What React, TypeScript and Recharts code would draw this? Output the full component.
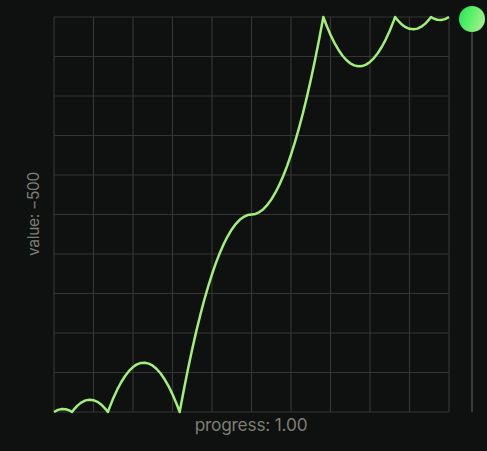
import React from "react";
import { LineChart, Line, XAxis, YAxis, CartesianGrid } from "recharts";

const progress = [
  0, 0.01, 0.02, 0.03, 0.04, 0.0455, 0.05, 0.06, 0.07, 0.08, 0.09, 0.1, 0.11, 0.12, 0.13, 0.1364,
  0.14, 0.15, 0.16, 0.17, 0.18, 0.19, 0.2, 0.21, 0.22, 0.23, 0.24, 0.25, 0.26, 0.27, 0.28, 0.29,
  0.3, 0.31, 0.3182, 0.32, 0.33, 0.34, 0.35, 0.36, 0.37, 0.38, 0.39, 0.4, 0.41, 0.42, 0.43, 0.44,
  0.45, 0.46, 0.47, 0.48, 0.49, 0.5, 0.51, 0.52, 0.53, 0.54, 0.55, 0.56, 0.57, 0.58, 0.59, 0.6,
  0.61, 0.62, 0.63, 0.64, 0.65, 0.66, 0.67, 0.68, 0.6818, 0.69, 0.7, 0.71, 0.72, 0.73, 0.74, 0.75,
  0.76, 0.77, 0.78, 0.79, 0.8, 0.81, 0.82, 0.83, 0.84, 0.85, 0.86, 0.8636, 0.87, 0.88, 0.89, 0.9,
  0.91, 0.92, 0.93, 0.94, 0.95, 0.9545, 0.96, 0.97, 0.98, 0.99, 1,
];

const values = [
  0, 0.0053, 0.0077, 0.007, 0.0033, 0, 0.0059, 0.0168, 0.0246, 0.0294, 0.0312, 0.03, 0.0257, 0.0184, 0.0081, 0,
  0.0098, 0.0347, 0.0565, 0.0754, 0.0912, 0.104, 0.1137, 0.1205, 0.1242, 0.1249, 0.1225, 0.1172, 0.1088, 0.0974, 0.0829, 0.0655,
  0.045, 0.0215, 0, 0.0099, 0.0629, 0.1128, 0.1597, 0.2035, 0.2444, 0.2822, 0.317, 0.3487, 0.3775, 0.4032, 0.4259, 0.4455,
  0.4622, 0.4758, 0.4864, 0.4939, 0.4985, 0.5, 0.5015, 0.5061, 0.5136, 0.5242, 0.5378, 0.5545, 0.5741, 0.5968, 0.6225, 0.6513,
  0.683, 0.7178, 0.7556, 0.7965, 0.8403, 0.8872, 0.9371, 0.9901, 1, 0.9785, 0.955, 0.9345, 0.9171, 0.9026, 0.8912, 0.8828,
  0.8775, 0.8751, 0.8758, 0.8795, 0.8863, 0.896, 0.9088, 0.9246, 0.9435, 0.9653, 0.9902, 1, 0.9919, 0.9816, 0.9743, 0.97,
  0.9688, 0.9706, 0.9754, 0.9832, 0.9941, 1, 0.9967, 0.993, 0.9923, 0.9947, 1,
];

const gridTicks = [0, 0.1, 0.2, 0.3, 0.4, 0.5, 0.6, 0.7, 0.8, 0.9, 1];

const xLabel = "progress: 1.00";
const yLabel = "value: −500";

const data = progress.map((p, i) => ({ p, v: values[i] }));

const hiddenTick = { fontSize: 0, fill: "none" };

export default function App() {
  return (
    <div
      style={{
        position: "fixed",
        left: 0,
        top: 0,
        width: 487,
        height: 451,
        background: "#0f1110",
        overflow: "hidden",
        fontFamily: "Inter, 'Noto Sans', sans-serif",
      }}
    >
      <LineChart
        width={487}
        height={451}
        data={data}
        margin={{ top: 17, right: 38, bottom: 39, left: 54 }}
      >
        <CartesianGrid stroke="#353533" strokeWidth={1.2} />
        <XAxis
          dataKey="p"
          type="number"
          domain={[0, 1]}
          ticks={gridTicks}
          tick={hiddenTick}
          axisLine={false}
          tickLine={false}
          height={0}
          interval={0}
        />
        <YAxis
          type="number"
          domain={[0, 1]}
          ticks={gridTicks}
          tick={hiddenTick}
          axisLine={false}
          tickLine={false}
          width={0}
          interval={0}
        />
        <Line
          type="linear"
          dataKey="v"
          stroke="#a0f07a"
          strokeWidth={2.5}
          dot={false}
          isAnimationActive={false}
          strokeLinejoin="round"
        />
      </LineChart>
      <div
        style={{
          position: "absolute",
          left: 0,
          width: 487,
          top: 414,
          textAlign: "center",
          paddingLeft: 15,
          boxSizing: "border-box",
          fontSize: 17.3,
          color: "#7e7e78",
          letterSpacing: -0.2,
        }}
      >
        {xLabel}
      </div>
      <div
        style={{
          position: "absolute",
          left: 33,
          top: 214,
          transform: "translate(-50%, -50%) rotate(-90deg)",
          whiteSpace: "nowrap",
          fontSize: 15.5,
          color: "#7e7e78",
          letterSpacing: -0.3,
        }}
      >
        {yLabel}
      </div>
      <div
        style={{
          position: "absolute",
          left: 471,
          top: 28,
          width: 2,
          height: 384,
          background: "#3a3a38",
        }}
      />
      <div
        style={{
          position: "absolute",
          left: 459,
          top: 6,
          width: 26,
          height: 26,
          borderRadius: "50%",
          background: "linear-gradient(110deg, #1fe05a 0%, #5ef06c 45%, #b6f096 100%)",
        }}
      />
    </div>
  );
}
